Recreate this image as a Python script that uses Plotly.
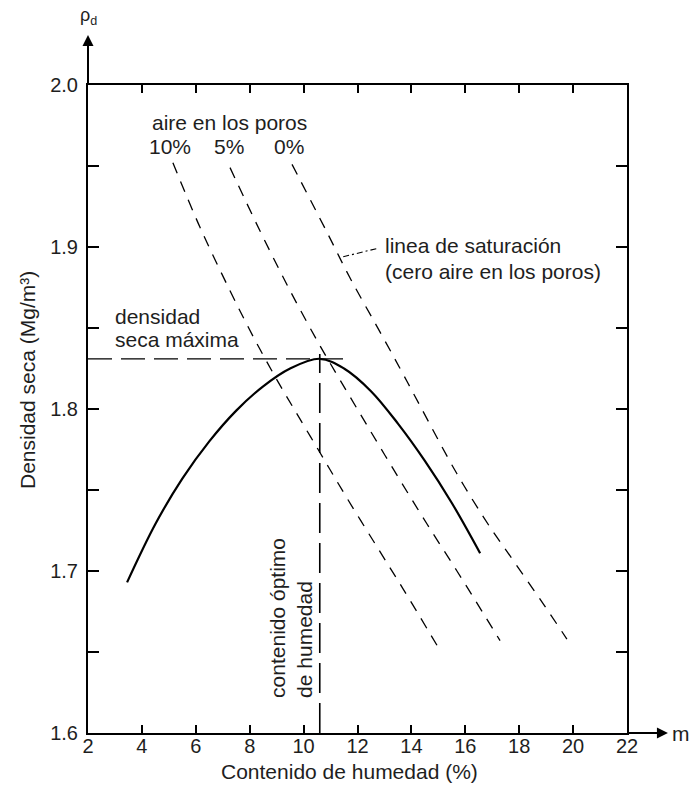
import plotly.graph_objects as go

# curva de compactacion (contenido de humedad %, densidad seca Mg/m3)
w_compact = [3.45, 4.5, 5.5, 6.5, 7.5, 8.5, 9.5, 10.6, 11.5, 12.5, 13.5, 14.5, 15.5, 16.55]
rho_compact = [1.693, 1.729, 1.757, 1.780, 1.799, 1.814, 1.825, 1.831, 1.825, 1.811, 1.791, 1.768, 1.742, 1.711]

# lineas de aire en los poros
w_void10 = [5.15, 6.16, 7.27, 8.12, 9.01, 9.61, 10.61, 11.61, 12.72, 13.69, 14.99]
rho_void10 = [1.952, 1.912, 1.873, 1.845, 1.818, 1.801, 1.773, 1.745, 1.715, 1.689, 1.653]

w_void5 = [7.27, 8.38, 9.50, 10.61, 11.35, 12.35, 13.47, 14.58, 15.69, 16.29, 17.29]
rho_void5 = [1.949, 1.910, 1.873, 1.839, 1.818, 1.790, 1.759, 1.729, 1.700, 1.684, 1.657]

w_void0 = [9.57, 10.87, 11.72, 12.72, 13.58, 14.32, 15.69, 16.92, 17.55, 18.88, 19.77]
rho_void0 = [1.951, 1.909, 1.881, 1.851, 1.825, 1.802, 1.760, 1.727, 1.712, 1.680, 1.658]

# maximo
w_opt = 10.6
rho_max = 1.831
w_max_line_end = 11.5
leader_w = [11.47, 12.71]
leader_rho = [1.894, 1.899]

x_ticks = list(range(2, 23, 2))
y_ticks = [1.6, 1.65, 1.7, 1.75, 1.8, 1.85, 1.9, 1.95, 2.0]
y_labels = ["1.6", "", "1.7", "", "1.8", "", "1.9", "", "2.0"]

FONT = "Liberation Sans, Arial, sans-serif"
TXT = "#1e1e1e"

fig = go.Figure()

dash_void = dict(color='black', width=1.3, dash='11px,9px', shape='spline')
fig.add_trace(go.Scatter(x=w_void10, y=rho_void10, mode='lines', line=dash_void))
fig.add_trace(go.Scatter(x=w_void5, y=rho_void5, mode='lines', line=dash_void))
fig.add_trace(go.Scatter(x=w_void0, y=rho_void0, mode='lines', line=dash_void))

# lineas de densidad maxima y contenido optimo
fig.add_trace(go.Scatter(x=[2, w_max_line_end], y=[rho_max, rho_max], mode='lines', line=dict(color='black', width=1.3, dash='24px,9px')))
fig.add_trace(go.Scatter(x=[w_opt, w_opt], y=[1.6, rho_max + 0.003], mode='lines', line=dict(color='black', width=1.6, dash='30px,10px')))
fig.add_trace(go.Scatter(x=leader_w, y=leader_rho, mode='lines', line=dict(color='black', width=1.1, dash='6px,3px,2px,3px')))

fig.add_trace(go.Scatter(x=w_compact, y=rho_compact, mode='lines', line=dict(color='black', width=2.2, shape='spline', smoothing=1)))

fig.update_layout(
    width=692, height=785,
    margin=dict(l=88, r=65, t=85, b=52),
    plot_bgcolor='white', paper_bgcolor='white',
    showlegend=False,
    font=dict(family=FONT, size=20, color=TXT),
)
fig.update_xaxes(range=[2, 22], tickvals=x_ticks, ticktext=[str(v) for v in x_ticks],
                 ticks='inside', ticklen=8, tickwidth=1.5, tickcolor='black',
                 showline=True, linewidth=2, linecolor='black', mirror='ticks',
                 showgrid=False, zeroline=False, ticklabelstandoff=-6)
fig.update_yaxes(range=[1.6, 2.0], tickvals=y_ticks, ticktext=y_labels,
                 ticks='inside', ticklen=11, tickwidth=1.5, tickcolor='black',
                 showline=True, linewidth=2, linecolor='black', mirror='ticks',
                 showgrid=False, zeroline=False, ticklabelstandoff=4)

def txt(x, y, s, xanchor='left', **kw):
    fig.add_annotation(x=x, y=y, text=s, showarrow=False, xanchor=xanchor, yanchor='middle',
                       font=dict(family=FONT, size=kw.pop('size', 21), color=TXT), **kw)

txt(4.3, 1.977, "aire en los poros")
txt(5.04, 1.962, "10%", xanchor='center')
txt(7.23, 1.962, "5%", xanchor='center')
txt(9.46, 1.962, "0%", xanchor='center')
txt(2.93, 1.857, "densidad")
txt(2.93, 1.843, "seca máxima")
txt(12.95, 1.901, "linea de saturación")
txt(12.95, 1.885, "(cero aire en los poros)")
txt(9.53, 1.671, "contenido óptimo<br>de humedad", xanchor='center', textangle=-90, align='left')

# titulos de ejes
txt(0.486, -0.059, "Contenido de humedad (%)", xanchor='center', xref='paper', yref='paper')
txt(-0.111, 0.545, "Densidad seca (Mg/m³)", xanchor='center', xref='paper', yref='paper', textangle=-90)

# flechas de ejes
fig.add_annotation(x=1.076, y=0, xref='paper', yref='paper', ax=-41, ay=0, text='', showarrow=True,
                   arrowhead=2, arrowsize=1.1, arrowwidth=2, arrowcolor='black')
fig.add_annotation(x=0, y=1.077, xref='paper', yref='paper', ax=0, ay=50, text='', showarrow=True,
                   arrowhead=2, arrowsize=1.1, arrowwidth=2, arrowcolor='black')
txt(1.08, 0, "m", xref='paper', yref='paper')
txt(0, 1.105, "ρ<sub>d</sub>", xanchor='center', xref='paper', yref='paper', size=18)

fig.write_html("out.html", config={'displayModeBar': False},
               post_script="document.body.style.margin='0';")
